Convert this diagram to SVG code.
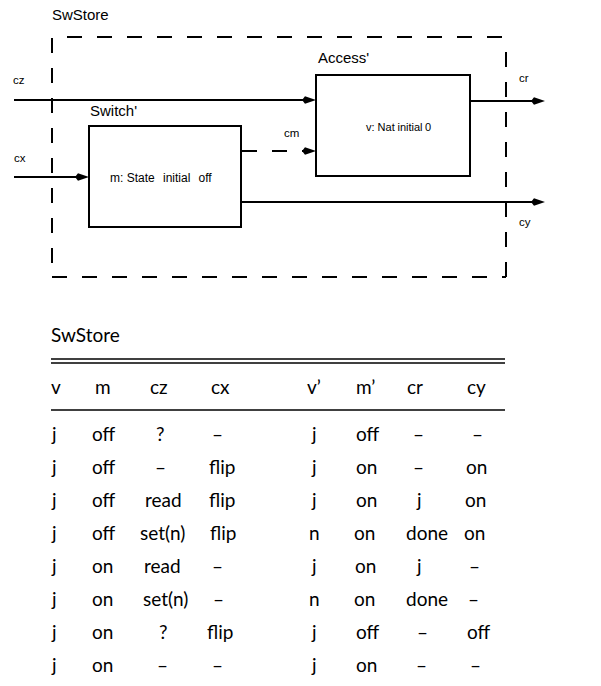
<svg xmlns="http://www.w3.org/2000/svg" width="601" height="686" viewBox="0 0 601 686">
  <style>
    .lbl { font-family: "Liberation Sans", Arial, Helvetica, sans-serif; fill: #000; }
    .title { font-size: 15px; }
    .port { font-size: 11.5px; }
    .inner { font-size: 12px; }
    .inner.small { font-size: 11px; }
    .box { fill: #fff; stroke: #000; stroke-width: 2; }
    .frame { fill: none; stroke: #000; stroke-width: 2; stroke-dasharray: 15 15; }
    .wire { fill: none; stroke: #000; stroke-width: 2; marker-end: url(#head); }
    .wire.dash { stroke-dasharray: 15 15; }
    .tbl { font-family: Lato, Carlito, "Open Sans", sans-serif; font-size: 19px; fill: #000; }
    .rule { stroke: #000; stroke-width: 1.3; }
  </style>
  <defs>
    <marker id="head" viewBox="-7 -5 16 10" refX="0" refY="0" markerWidth="16" markerHeight="10" markerUnits="userSpaceOnUse" orient="auto">
      <path d="M8,0 L-3,-3.8 L-6,0 L-3,3.8 Z" fill="#000"/>
    </marker>
  </defs>
  <rect width="601" height="686" fill="#fff"/>

  <!-- composite component boundary -->
  <g id="swstore">
    <text class="lbl title" x="52" y="20">SwStore</text>
    <path class="frame" d="M67,37 H506"/>
    <path class="frame" d="M506,52 V277"/>
    <path class="frame" d="M52,277 H506"/>
    <path class="frame" d="M52,38 V277"/>
  </g>

  <g id="access">
    <text class="lbl title" x="318" y="63">Access'</text>
    <rect class="box" x="316" y="75" width="154" height="101"/>
    <text class="lbl inner small" x="366" y="131">v: Nat</text>
    <text class="lbl inner small" x="397.5" y="131">initial</text>
    <text class="lbl inner small" x="425" y="131">0</text>
  </g>

  <g id="switch">
    <text class="lbl title" x="90" y="116">Switch'</text>
    <rect class="box" x="89" y="126" width="152" height="101"/>
    <text class="lbl inner" x="110" y="182">m: State</text>
    <text class="lbl inner" x="163" y="182">initial</text>
    <text class="lbl inner" x="198.5" y="182">off</text>
  </g>

  <!-- channels -->
  <g id="connectors">
    <path class="wire" d="M14,100 H308"/>
    <path class="wire" d="M14,177 H81"/>
    <path class="wire dash" d="M242,151 H308"/>
    <path class="wire" d="M470,101 H537"/>
    <path class="wire" d="M241,202 H537"/>
    <text class="lbl port" x="13" y="84">cz</text>
    <text class="lbl port" x="14" y="162">cx</text>
    <text class="lbl port" x="284" y="137">cm</text>
    <text class="lbl port" x="519" y="82">cr</text>
    <text class="lbl port" x="519" y="226">cy</text>
  </g>

  <!-- behaviour table -->
  <g id="table">
    <text class="tbl" x="51" y="342">SwStore</text>
    <line class="rule" x1="51" y1="359" x2="505" y2="359"/>
    <line class="rule" x1="51" y1="363" x2="505" y2="363"/>
    <g>
      <text class="tbl" x="51" y="394">v</text>
      <text class="tbl" x="95" y="394">m</text>
      <text class="tbl" x="150" y="394">cz</text>
      <text class="tbl" x="211" y="394">cx</text>
      <text class="tbl" x="307" y="394">v’</text>
      <text class="tbl" x="356" y="394">m’</text>
      <text class="tbl" x="407" y="394">cr</text>
      <text class="tbl" x="467" y="394">cy</text>
    </g>
    <line class="rule" x1="51" y1="410" x2="505" y2="410"/>
    <g>
      <text class="tbl" x="52" y="441">j</text><text class="tbl" x="92" y="441">off</text><text class="tbl" x="156" y="441">?</text><text class="tbl" x="212" y="441">–</text>
      <text class="tbl" x="312" y="441">j</text><text class="tbl" x="356" y="441">off</text><text class="tbl" x="413" y="441">–</text><text class="tbl" x="472" y="441">–</text>
    </g>
    <g>
      <text class="tbl" x="52" y="474">j</text><text class="tbl" x="92" y="474">off</text><text class="tbl" x="155" y="474">–</text><text class="tbl" x="209" y="474">flip</text>
      <text class="tbl" x="312" y="474">j</text><text class="tbl" x="356" y="474">on</text><text class="tbl" x="413" y="474">–</text><text class="tbl" x="466" y="474">on</text>
    </g>
    <g>
      <text class="tbl" x="52" y="507">j</text><text class="tbl" x="92" y="507">off</text><text class="tbl" x="145" y="507">read</text><text class="tbl" x="209" y="507">flip</text>
      <text class="tbl" x="312" y="507">j</text><text class="tbl" x="356" y="507">on</text><text class="tbl" x="417" y="507">j</text><text class="tbl" x="465" y="507">on</text>
    </g>
    <g>
      <text class="tbl" x="52" y="540">j</text><text class="tbl" x="92" y="540">off</text><text class="tbl" x="140" y="540">set(n)</text><text class="tbl" x="210" y="540">flip</text>
      <text class="tbl" x="309" y="540">n</text><text class="tbl" x="354" y="540">on</text><text class="tbl" x="406" y="540">done</text><text class="tbl" x="464" y="540">on</text>
    </g>
    <g>
      <text class="tbl" x="52" y="573">j</text><text class="tbl" x="92" y="573">on</text><text class="tbl" x="144" y="573">read</text><text class="tbl" x="212" y="573">–</text>
      <text class="tbl" x="312" y="573">j</text><text class="tbl" x="355" y="573">on</text><text class="tbl" x="417" y="573">j</text><text class="tbl" x="469" y="573">–</text>
    </g>
    <g>
      <text class="tbl" x="52" y="606">j</text><text class="tbl" x="92" y="606">on</text><text class="tbl" x="143" y="606">set(n)</text><text class="tbl" x="213" y="606">–</text>
      <text class="tbl" x="309" y="606">n</text><text class="tbl" x="354" y="606">on</text><text class="tbl" x="406" y="606">done</text><text class="tbl" x="468" y="606">–</text>
    </g>
    <g>
      <text class="tbl" x="52" y="639">j</text><text class="tbl" x="92" y="639">on</text><text class="tbl" x="159" y="639">?</text><text class="tbl" x="207" y="639">flip</text>
      <text class="tbl" x="312" y="639">j</text><text class="tbl" x="356" y="639">off</text><text class="tbl" x="417" y="639">–</text><text class="tbl" x="467" y="639">off</text>
    </g>
    <g>
      <text class="tbl" x="52" y="672">j</text><text class="tbl" x="92" y="672">on</text><text class="tbl" x="157" y="672">–</text><text class="tbl" x="212" y="672">–</text>
      <text class="tbl" x="312" y="672">j</text><text class="tbl" x="356" y="672">on</text><text class="tbl" x="416" y="672">–</text><text class="tbl" x="470" y="672">–</text>
    </g>
  </g>
</svg>
